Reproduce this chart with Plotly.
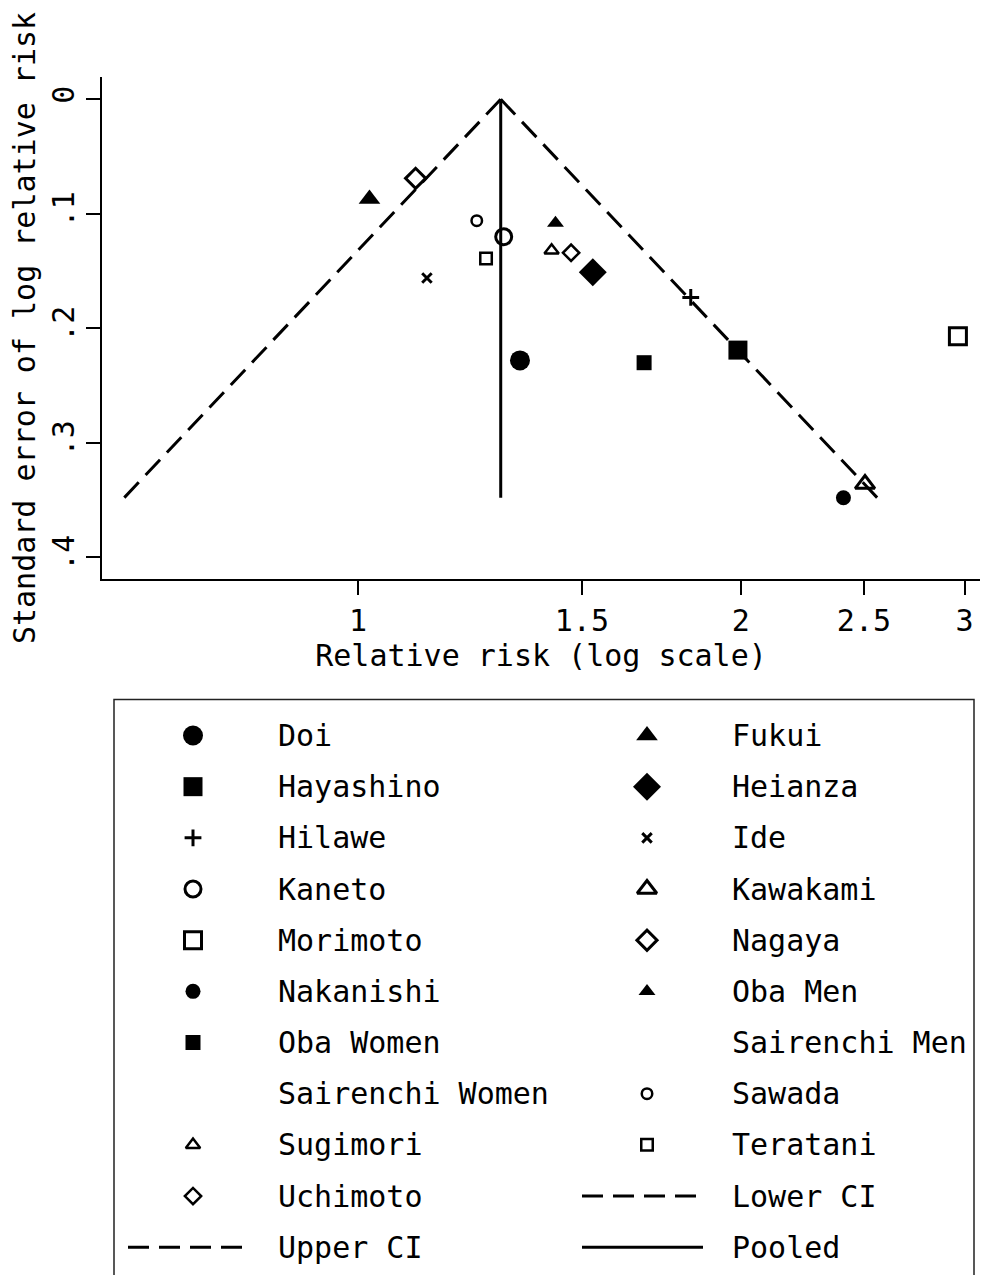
import math
import plotly.graph_objects as go

# ---- study estimates: relative risk and standard error of log relative risk ----
studies = ["Doi", "Fukui", "Hayashino", "Heianza", "Hilawe", "Ide", "Kaneto",
           "Kawakami", "Morimoto", "Nagaya", "Nakanishi", "Oba Men", "Oba Women",
           "Sairenchi Men", "Sairenchi Women", "Sawada", "Sugimori", "Teratani",
           "Uchimoto"]
relative_risk = [1.341, 1.021, 1.990, 1.530, 1.827, 1.133, 1.302,
                 2.505, 2.964, 1.110, 2.409, 1.430, 1.679,
                 None, None, 1.240, 1.420, 1.261,
                 1.471]
std_error = [0.228, 0.087, 0.219, 0.151, 0.173, 0.156, 0.120,
             0.336, 0.207, 0.069, 0.348, 0.108, 0.230,
             None, None, 0.106, 0.132, 0.139,
             0.134]
pooled_rr = 1.295

x_tick_vals = [1, 1.5, 2, 2.5, 3]
x_tick_text = ["1", "1.5", "2", "2.5", "3"]
y_tick_vals = [0, 0.1, 0.2, 0.3, 0.4]
y_tick_text = ["0", ".1", ".2", ".3", ".4"]

W, H = 981, 1275
FONT = dict(family="DejaVu Sans Mono", size=30, color="black")
DASH = "21px,10px"
LW = 3


def filled(symbol, size):
    return dict(symbol=symbol, size=size, color="black", line=dict(width=0))


def hollow(symbol, size, width=3):
    return dict(symbol=symbol, size=size, color="black",
                line=dict(width=width, color="black"))


marker_styles = {
    "Doi": filled("circle", 20),
    "Fukui": filled("triangle-up", 18.8),
    "Hayashino": filled("square", 19),
    "Heianza": filled("diamond", 21.5),
    "Hilawe": hollow("cross-thin", 12),
    "Ide": hollow("x-thin", 9.5),
    "Kaneto": hollow("circle-open", 16),
    "Kawakami": hollow("triangle-up-open", 17),
    "Morimoto": hollow("square-open", 17),
    "Nagaya": hollow("diamond-open", 15.5),
    "Nakanishi": filled("circle", 15),
    "Oba Men": filled("triangle-up", 14.7),
    "Oba Women": filled("square", 15),
    "Sairenchi Men": None,
    "Sairenchi Women": None,
    "Sawada": hollow("circle-open", 10.5, 2.5),
    "Sugimori": hollow("triangle-up-open", 12.5, 2.5),
    "Teratani": hollow("square-open", 11.5, 2.5),
    "Uchimoto": hollow("diamond-open", 12.5, 2.5),
}

fig = go.Figure()

# ---- study points ----
for name, rr, se in zip(studies, relative_risk, std_error):
    style = marker_styles[name]
    fig.add_trace(go.Scatter(
        x=[rr], y=[se], mode="markers", name=name, showlegend=False,
        marker=style if style else dict(opacity=0),
        xaxis="x", yaxis="y", hoverinfo="name+x+y"))

# ---- pseudo 95% confidence limits and pooled estimate ----
max_se = max(s for s in std_error if s is not None)
se_span = [0, max_se]
log_pooled = math.log(pooled_rr)
lower_ci = [math.exp(log_pooled - 1.96 * s) for s in se_span]
upper_ci = [math.exp(log_pooled + 1.96 * s) for s in se_span]

line_series = [
    ("Lower CI", lower_ci, se_span, DASH),
    ("Upper CI", upper_ci, se_span, DASH),
    ("Pooled", [pooled_rr, pooled_rr], se_span, "solid"),
]
for name, xs, ys, dash in line_series:
    fig.add_trace(go.Scatter(
        x=xs, y=ys, mode="lines", name=name, showlegend=False,
        line=dict(color="black", width=LW, dash=dash),
        xaxis="x", yaxis="y"))

# ---- key box below the plot (drawn on a pixel-unit helper axis) ----
key_entries = [(n, "marker") for n in studies] + [(n, "line") for n, *_ in line_series]
key_dash = {n: d for n, _, _, d in line_series}
sym_x = [193, 647]
txt_x = [276, 730]
row0, row_gap = 735.5, 51.17

for i, (name, kind) in enumerate(key_entries):
    col, row = i % 2, i // 2
    ky = row0 + row * row_gap
    if kind == "marker":
        style = marker_styles[name]
        if style:
            fig.add_trace(go.Scatter(
                x=[sym_x[col]], y=[ky], mode="markers", marker=style,
                showlegend=False, hoverinfo="skip", xaxis="x2", yaxis="y2"))
    else:
        fig.add_trace(go.Scatter(
            x=[sym_x[col] - 65, sym_x[col] + 56], y=[ky, ky], mode="lines",
            line=dict(color="black", width=LW, dash=key_dash[name]),
            showlegend=False, hoverinfo="skip", xaxis="x2", yaxis="y2"))
    fig.add_annotation(x=txt_x[col], y=ky, xref="x2", yref="y2", text=name,
                       showarrow=False, xanchor="left", yanchor="middle",
                       font=FONT)

fig.add_shape(type="rect", xref="paper", yref="paper",
              x0=114 / W, x1=974 / W, y0=1 - 699.5 / H, y1=-0.05,
              line=dict(color="#222222", width=1.5), fillcolor="rgba(0,0,0,0)")

plot_left, plot_right, plot_top, plot_bottom = 102, 980, 77, 579

fig.update_layout(
    width=W, height=H,
    margin=dict(l=0, r=0, t=0, b=0),
    paper_bgcolor="white", plot_bgcolor="white",
    font=FONT,
    showlegend=False,
    xaxis=dict(
        type="log",
        domain=[plot_left / W, plot_right / W],
        range=[math.log10(0.629), math.log10(3.085)],
        tickvals=x_tick_vals, ticktext=x_tick_text,
        ticks="outside", ticklen=14, tickwidth=1.5, tickcolor="black",
        showline=True, linecolor="black", linewidth=1.5,
        showgrid=False, zeroline=False,
        tickfont=FONT,
        title=dict(text="Relative risk (log scale)", font=FONT, standoff=6),
        anchor="y",
    ),
    yaxis=dict(
        domain=[1 - plot_bottom / H, 1 - plot_top / H],
        range=[0.4189, -0.0195],
        tickvals=y_tick_vals, ticktext=y_tick_text, tickangle=-90,
        ticks="outside", ticklen=14, tickwidth=1.5, tickcolor="black",
        showline=True, linecolor="black", linewidth=1.5,
        showgrid=False, zeroline=False,
        tickfont=FONT,
        title=dict(text="Standard error of log relative risk", font=FONT, standoff=2),
        anchor="x",
    ),
    xaxis2=dict(domain=[0, 1], range=[0, W], visible=False, fixedrange=True,
                anchor="y2"),
    yaxis2=dict(domain=[0, 1 - 690 / H], range=[H, 690], visible=False,
                fixedrange=True, anchor="x2"),
)

fig.write_html("out.html")
